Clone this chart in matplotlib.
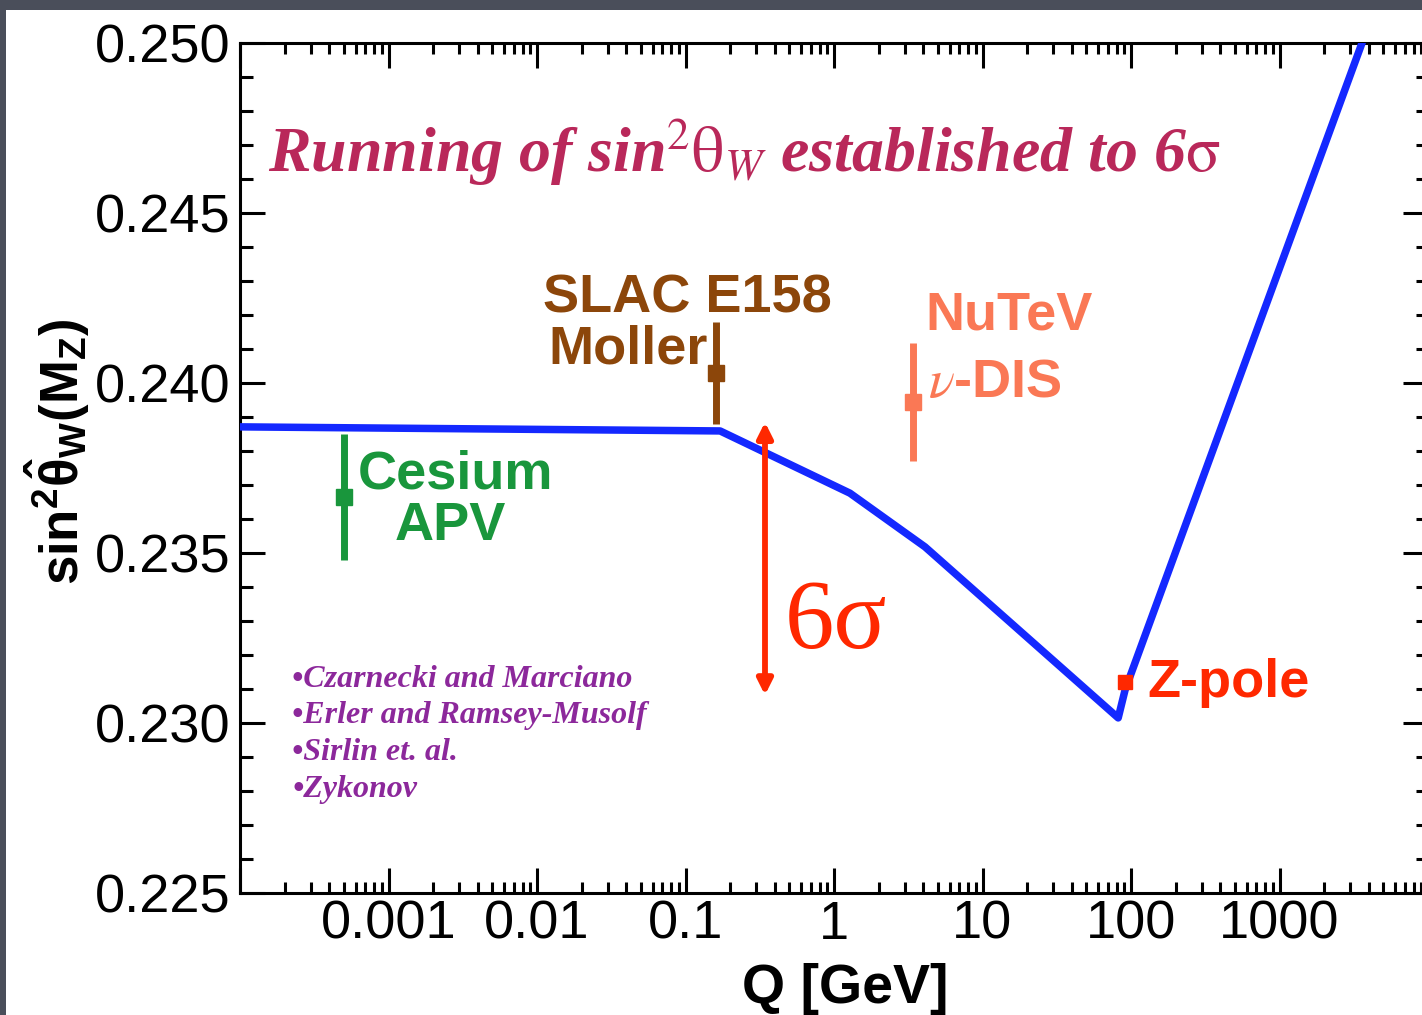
import matplotlib
matplotlib.use("Agg")
import matplotlib.pyplot as plt
from matplotlib.patches import Rectangle
from matplotlib.ticker import FixedLocator, NullFormatter
import numpy as np

# running of sin^2 theta_W
curve_q = [1e-4, 0.171, 1.28, 4.1, 82.0, 91.2, 3700.0]
curve_s = [0.23871, 0.23859, 0.23676, 0.23518, 0.23015, 0.23097, 0.25015]

# measurements: name, Q, value, error
meas_names = ["Cesium APV", "SLAC E158", "NuTeV", "Z-pole"]
meas_q = [5.0e-4, 0.160, 3.4, 91.2]
meas_s = [0.23665, 0.24029, 0.23944, 0.23121]
meas_err = [0.00185, 0.0015, 0.00174, 0.0]
meas_colors = ["#19963c", "#8c460a", "#fa7855", "#ff2800"]
meas_msize = [12, 12, 12, 10]

# 6 sigma arrow
arrow_q = 0.343
arrow_lo, arrow_hi = 0.23082, 0.23885

x_ticks = [1e-4, 1e-3, 1e-2, 1e-1, 1, 10, 100, 1000, 1e4]
x_labels = ["", "0.001", "0.01", "0.1", "1", "10", "100", "1000", ""]
y_ticks = [0.225, 0.230, 0.235, 0.240, 0.245, 0.250]
y_labels = ["0.225", "0.230", "0.235", "0.240", "0.245", "0.250"]

refs = ["\u2022Czarnecki and Marciano", "\u2022Erler and Ramsey-Musolf",
        "\u2022Sirlin et. al.", "\u2022Zykonov"]

plt.rcParams["mathtext.rm"] = "Liberation Sans:bold"
plt.rcParams["mathtext.it"] = "Liberation Sans:bold"
plt.rcParams["mathtext.bf"] = "Liberation Sans:bold"

W, H = 1422, 1015
fig = plt.figure(figsize=(W / 100, H / 100), dpi=100)
fig.patch.set_facecolor("#4a4e5a")
fig.patches.append(Rectangle((6 / W, 0), 1, (H - 10) / H, transform=fig.transFigure,
                             facecolor="white", edgecolor="none", zorder=-1))

# axes box in pixels: x 240..1428, y 43..893
ax = fig.add_axes([240 / W, (H - 893) / H, 1188 / W, 850 / H])
ax.set_facecolor("white")
ax.set_xscale("log")
ax.set_xlim(1e-4, 1e4)
ax.set_ylim(0.225, 0.250)

for sp in ax.spines.values():
    sp.set_linewidth(2.2)

ax.set_xticks(x_ticks, x_labels)
ax.xaxis.set_minor_locator(FixedLocator(
    [m * 10.0 ** e for e in range(-4, 4) for m in range(2, 10)]))
ax.xaxis.set_minor_formatter(NullFormatter())
ax.set_yticks(y_ticks, y_labels)
ax.yaxis.set_minor_locator(FixedLocator(np.arange(0.225, 0.2505, 0.001)))

ax.tick_params(which="both", direction="in", top=True, right=True, width=2.2,
               labelsize=39, labelfontfamily="Liberation Sans")
ax.tick_params(which="major", length=18)
ax.tick_params(which="minor", length=9)
ax.tick_params(axis="x", which="minor", length=8)
ax.tick_params(axis="x", pad=5)
ax.tick_params(axis="y", pad=7)

# curve
ax.plot(curve_q, curve_s, color="#1428ff", lw=5.4, zorder=3, clip_on=True)

# data points
for q, s, e, c, ms in zip(meas_q, meas_s, meas_err, meas_colors, meas_msize):
    ax.errorbar([q], [s], yerr=[e] if e > 0 else None, fmt="s", color=c, ms=ms,
                elinewidth=5.0, capsize=0, zorder=4)

# 6 sigma arrow
ax.annotate("", xy=(arrow_q, arrow_hi), xytext=(arrow_q, arrow_lo),
            arrowprops=dict(arrowstyle="<|-|>,head_length=0.9,head_width=0.45",
                            color="#ff2800", lw=4.2, shrinkA=0, shrinkB=0),
            zorder=5)
ax.text(0.468, 0.23221, "6\u03c3", color="#ff2800", fontsize=71,
        family="Liberation Serif", ha="left", va="baseline")

# labels of the points
lab = dict(family="Liberation Sans", weight="bold", fontsize=39,
           ha="left", va="baseline")
ax.text(6.23e-4, 0.23691, "Cesium", color=meas_colors[0], **lab)
ax.text(1.106e-3, 0.23538, "APV", color=meas_colors[0], **lab)
ax.text(0.01098, 0.24206, "SLAC E158", color=meas_colors[1], **lab)
ax.text(0.01186, 0.24056, "Moller", color=meas_colors[1], **lab)
ax.text(4.10, 0.24156, "NuTeV", color=meas_colors[2], **lab)
ax.text(4.30, 0.23959, r"$\nu$-DIS", color=meas_colors[2],
        math_fontfamily="stix", **lab)
ax.text(128.2, 0.23076, "Z-pole", color=meas_colors[3], **lab)

# headline
ax.text(1.544e-4, 0.24621,
        r"Running of sin$^{2}\mathrm{\theta}_{W}$ established to 6$\mathrm{\sigma}$",
        color="#b9285a", fontsize=46, family="Liberation Serif", weight="bold",
        style="italic", math_fontfamily="stix", ha="left", va="baseline")

# references
for r, yb in zip(refs, [0.23106, 0.23000, 0.22891, 0.22782]):
    ax.text(2.24e-4, yb, r, color="#8c289b", fontsize=23,
            family="Liberation Serif", weight="bold", style="italic",
            ha="left", va="baseline")

# axis titles
fig.text(845 / W, 1 - 1003 / H, "Q [GeV]", fontsize=40, weight="bold",
         family="Liberation Sans", ha="center", va="baseline")
fig.text(57 / W, 1 - 452 / H, r"sin$^{2}\hat{\theta}_{W}$(M$_{Z}$)", fontsize=38,
         weight="bold", family="Liberation Sans", rotation=90,
         math_fontfamily="custom", ha="center", va="center")

fig.savefig("out.png", dpi=100, facecolor=fig.get_facecolor())
